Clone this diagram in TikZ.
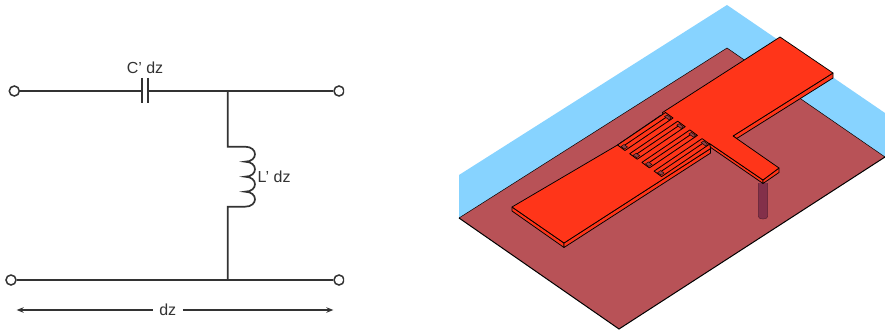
\documentclass[tikz,border=0pt]{standalone}
\usepackage{fontspec}
\setmainfont{Liberation Sans}
\usetikzlibrary{arrows.meta}
\definecolor{skyc}{HTML}{87D3FF}
\definecolor{platec}{HTML}{B85257}
\definecolor{patchc}{HTML}{FF3519}
\definecolor{viac}{HTML}{83304A}
\definecolor{wirec}{HTML}{333333}
\tikzset{
  wire/.style={draw=wirec,line width=1.7pt},
  term/.style={circle,draw=wirec,line width=1.5pt,fill=white,minimum size=10pt,inner sep=0pt},
  lab/.style={font=\fontsize{16}{18}\selectfont,text=wirec,inner sep=0pt},
  dimline/.style={draw=wirec,line width=1.1pt,-{Stealth[length=7pt,width=5.5pt]}},
  edge3d/.style={draw=black,line width=0.75pt,line join=round},
  redface/.style={fill=patchc,edge3d},
  slotbit/.style={fill=platec!80!black,draw=black,line width=0.4pt}
}
\begin{document}
\begin{tikzpicture}[x=1pt,y=-1pt]
\useasboundingbox (0,0) rectangle (885,331);
\fill[white] (0,0) rectangle (885,331);
% ---------- circuit
\begin{scope}
\clip (0,0) rectangle (344,331);
\node[term] (tl) at (14.3,91) {};
\node[term] (tr) at (339,91) {};
\node[term] (bl) at (11,280) {};
\node[term] (br) at (339,280) {};
\end{scope}
\coordinate (capa) at (141.7,91);
\coordinate (capb) at (148.3,91);
\coordinate (jt) at (227.7,91);
\coordinate (jb) at (227.7,280);
\coordinate (la) at (227.7,146.7);
\coordinate (lb) at (227.7,206.7);
\draw[wire] (tl) -- (capa);
\draw[wire] (capb) -- (tr);
\draw[wire] (bl) -- (br);
\draw[wire] (capa |- 0,78) -- (capa |- 0,103);
\draw[wire] (capb |- 0,78) -- (capb |- 0,103);
\draw[wire] (jt) -- (la) -- (245,146.7)
  .. controls (258.3,146.7) and (258.3,161.7) .. (245,161.7)
  .. controls (258.3,161.7) and (258.3,176.7) .. (245,176.7)
  .. controls (258.3,176.7) and (258.3,191.7) .. (245,191.7)
  .. controls (258.3,191.7) and (258.3,206.7) .. (245,206.7)
  -- (lb) -- (jb);
\node[lab] (cl) at (145,68) {C' dz};
\node[lab,anchor=west] (ll) at (257.5,176.7) {L' dz};
\node[lab,minimum width=30pt] (dz) at (167.7,310) {dz};
\coordinate (al) at (16.7,310);
\coordinate (ar) at (333.3,310);
\draw[dimline] (dz) -- (al);
\draw[dimline] (dz) -- (ar);
% ---------- 3D structure
\fill[skyc] (459,175) -- (727,5) -- (885,113) -- (885,157) -- (727,48) -- (459,218) -- cycle;
\fill[platec] (459,218) -- (619,329) -- (885,157) -- (727,48) -- cycle;
\draw[black,line width=0.5pt] (459,218) -- (727,48) -- (885,157);
\draw[black,line width=1pt] (459,218) -- (619,329) -- (885,157);
% via
\fill[viac] (758.3,183) -- (767.7,183) -- (767.7,216.5) arc[start angle=0,end angle=-180,x radius=4.7pt,y radius=2.5pt] -- cycle;
\draw[viac!70!black,line width=0.5pt] (758.3,183) -- (758.3,216.5) arc[start angle=180,end angle=360,x radius=4.7pt,y radius=2.5pt] -- (767.7,183);
% side faces
\path[redface] (512,207) -- (564,243) -- (564,247.5) -- (512,211) -- cycle;
\path[redface] (564,243) -- (710.6,148.5) -- (710.6,153) -- (564,247.5) -- cycle;
\path[redface] (709.5,143.5) -- (763,180) -- (763,183.5) -- (710,147) -- cycle;
\path[redface] (763,180) -- (779,168) -- (779,172.5) -- (763,183.5) -- cycle;
\path[redface] (833,73) -- (833,78) -- (736.7,138.5) -- (733,136) -- cycle;
% top face
\path[redface] (512,207) -- (617.5,145) -- (660.5,115.5) -- (663.5,117) -- (662.5,112.5) -- (780,37) -- (833,73)
  -- (733,136) -- (779,168) -- (763,180) -- (709.5,143.5) -- (710.6,148.5) -- (564,243) -- cycle;
% interdigital rings
\foreach \i in {0,1,2,3}{
  \begin{scope}[shift={({12.2*\i},{8.7*\i})}]
    \path[fill=patchc,draw=black,line width=0.8pt,line join=round]
      (617.5,145) -- (625,150.5) -- (673,118) -- (665.5,112.5) -- cycle;
    \draw[black,line width=0.8pt] (622,147) -- (668,116);
    \path[slotbit] (621,146.5) -- (624.5,149) -- (627.5,147) -- (624,144.5) -- cycle;
    \path[slotbit] (664.5,116.5) -- (669,119.8) -- (671,118) -- (667,115) -- cycle;
  \end{scope}
}
\end{tikzpicture}
\end{document}
